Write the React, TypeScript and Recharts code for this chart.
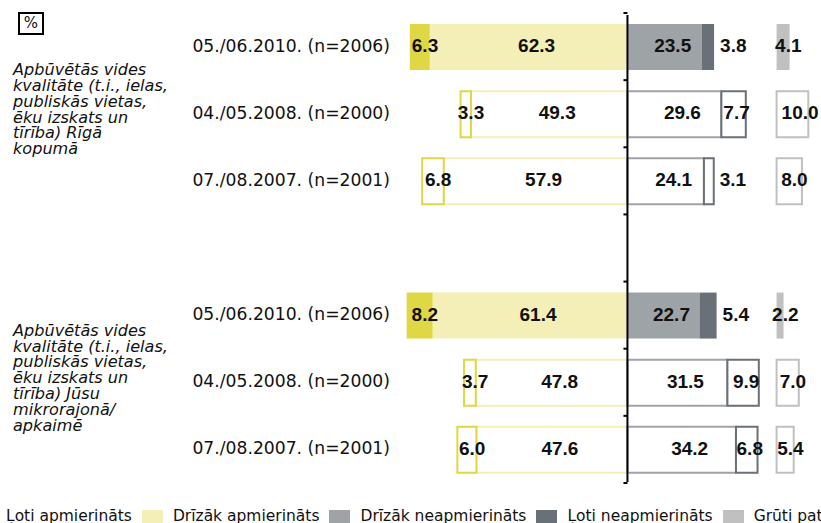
import { Bar, BarChart, Cell, LabelList, ReferenceLine, XAxis, YAxis } from "recharts";

const ROW_IDS = ["r1", "r2", "r3", "gap", "r4", "r5", "r6"];
const ROW_LABELS = [
  "05./06.2010. (n=2006)",
  "04./05.2008. (n=2000)",
  "07./08.2007. (n=2001)",
  "",
  "05./06.2010. (n=2006)",
  "04./05.2008. (n=2000)",
  "07./08.2007. (n=2001)",
];
// 2010 wave is drawn filled, older waves as outlines
const ROW_FILLED = [true, false, false, false, true, false, false];

const GROUP_RIGA = ["Apbūvētās vides", "kvalitāte (t.i., ielas,", "publiskās vietas,", "ēku izskats un", "tīrība) Rīgā", "kopumā"];
const GROUP_LOCAL = ["Apbūvētās vides", "kvalitāte (t.i., ielas,", "publiskās vietas,", "ēku izskats un", "tīrība) Jūsu", "mikrorajonā/", "apkaimē"];

const VERY_SAT = [6.3, 3.3, 6.8, null, 8.2, 3.7, 6.0];
const RATHER_SAT = [62.3, 49.3, 57.9, null, 61.4, 47.8, 47.6];
const RATHER_DIS = [23.5, 29.6, 24.1, null, 22.7, 31.5, 34.2];
const VERY_DIS = [3.8, 7.7, 3.1, null, 5.4, 9.9, 6.8];
const HARD_TO_SAY = [4.1, 10.0, 8.0, null, 2.2, 7.0, 5.4];

const SERIES_NAMES = ["Ļoti apmierināts", "Drīzāk apmierināts", "Drīzāk neapmierināts", "Ļoti neapmierināts", "Grūti pateikt"];
const SERIES_COLORS = ["#dfd744", "#f4efb6", "#9ea3a8", "#6a7077", "#c0c0c0"];

const data = ROW_IDS.map((id, i) => ({
  id,
  label: ROW_LABELS[i],
  vs: VERY_SAT[i] == null ? null : -VERY_SAT[i]!,
  rs: RATHER_SAT[i] == null ? null : -RATHER_SAT[i]!,
  rd: RATHER_DIS[i],
  vd: VERY_DIS[i],
  dk: HARD_TO_SAY[i],
}));

const SANS = "'DejaVu Sans', sans-serif";
const VALUE_FONT = { fontFamily: "'Liberation Sans', Arial, sans-serif", fontWeight: 700, fontSize: 19, fill: "#111" };

type Mode = "start" | "center" | "outside";

const makeLabel = (mode: Mode) => (props: any) => {
  const { x, y, width, height, value } = props;
  if (value == null || isNaN(x)) return null;
  const x0 = width < 0 ? x + width : x;
  const w = Math.abs(width);
  const ty = y + height / 2 + 5;
  let tx = x0;
  let anchor: "start" | "middle" = "start";
  if (mode === "start") {
    tx = x0 + Math.min(5, w / 2 - 8);
  } else if (mode === "center") {
    tx = x0 + w / 2 + 8;
    anchor = "middle";
  } else if (w >= 20) {
    tx = x0 + w / 2 + 3;
    anchor = "middle";
  } else {
    tx = x0 + w + 6;
  }
  return (
    <text x={tx} y={ty} textAnchor={anchor} style={VALUE_FONT}>
      {Math.abs(value).toFixed(1)}
    </text>
  );
};

const cellsFor = (color: string) =>
  data.map((d, i) =>
    ROW_FILLED[i] ? (
      <Cell key={d.id} fill={color} stroke="none" />
    ) : (
      <Cell key={d.id} fill="#ffffff" stroke={color} strokeWidth={2} />
    )
  );

const RowTick = (props: any) => {
  const { y, payload } = props;
  const idx = ROW_IDS.indexOf(payload.value);
  const group = payload.value === "r2" ? GROUP_RIGA : payload.value === "r5" ? GROUP_LOCAL : null;
  const sp = 15.8;
  return (
    <g>
      <text x={390} y={y + 5} textAnchor="end" style={{ fontFamily: SANS, fontSize: 17.2, fill: "#111" }}>
        {ROW_LABELS[idx]}
      </text>
      {group && (
        <text style={{ fontFamily: SANS, fontSize: 16.1, fontStyle: "italic", fill: "#111" }}>
          {group.map((line, k) => (
            <tspan key={k} x={13} y={y + 1 - ((group.length - 1) * sp) / 2 + k * sp}>
              {line}
            </tspan>
          ))}
        </text>
      )}
    </g>
  );
};

const AxisShape = (props: any) => {
  const { x1, y1, y2 } = props;
  const step = (y2 - y1) / ROW_IDS.length;
  return (
    <g>
      <line x1={x1} x2={x1} y1={y1 - 1} y2={y2 + 2} stroke="#000" strokeWidth={2} />
      {ROW_IDS.map((_, i) => (
        <line key={i} x1={x1 - 4} x2={x1} y1={y1 + i * step} y2={y1 + i * step} stroke="#000" strokeWidth={2} />
      ))}
      <line x1={x1 - 4} x2={x1} y1={y2} y2={y2} stroke="#000" strokeWidth={2} />
    </g>
  );
};

export default function App() {
  return (
    <div style={{ position: "absolute", left: 0, top: 0, width: 821, height: 523, overflow: "hidden", background: "#fff" }}>
      <BarChart
        width={821}
        height={523}
        data={data}
        layout="vertical"
        stackOffset="sign"
        margin={{ top: 13, right: 0, bottom: 40, left: 0 }}
      >
        <XAxis xAxisId="main" type="number" domain={[-72, 61]} hide allowDataOverflow />
        <XAxis xAxisId="dk" type="number" domain={[-119, 14]} hide allowDataOverflow />
        <YAxis
          yAxisId="main"
          type="category"
          dataKey="id"
          width={399}
          axisLine={false}
          tickLine={false}
          interval={0}
          tick={<RowTick />}
        />
        <YAxis yAxisId="dk" type="category" dataKey="id" hide />
        <Bar dataKey="rs" name={SERIES_NAMES[1]} xAxisId="main" yAxisId="main" stackId="s" barSize={46} fill={SERIES_COLORS[1]} isAnimationActive={false}>
          {cellsFor(SERIES_COLORS[1])}
          <LabelList dataKey="rs" content={makeLabel("center")} />
        </Bar>
        <Bar dataKey="vs" name={SERIES_NAMES[0]} xAxisId="main" yAxisId="main" stackId="s" barSize={46} fill={SERIES_COLORS[0]} isAnimationActive={false}>
          {cellsFor(SERIES_COLORS[0])}
          <LabelList dataKey="vs" content={makeLabel("start")} />
        </Bar>
        <Bar dataKey="rd" name={SERIES_NAMES[2]} xAxisId="main" yAxisId="main" stackId="s" barSize={46} fill={SERIES_COLORS[2]} isAnimationActive={false}>
          {cellsFor(SERIES_COLORS[2])}
          <LabelList dataKey="rd" content={makeLabel("center")} />
        </Bar>
        <Bar dataKey="vd" name={SERIES_NAMES[3]} xAxisId="main" yAxisId="main" stackId="s" barSize={46} fill={SERIES_COLORS[3]} isAnimationActive={false}>
          {cellsFor(SERIES_COLORS[3])}
          <LabelList dataKey="vd" content={makeLabel("outside")} />
        </Bar>
        <Bar dataKey="dk" name={SERIES_NAMES[4]} xAxisId="dk" yAxisId="dk" barSize={46} fill={SERIES_COLORS[4]} isAnimationActive={false}>
          {cellsFor(SERIES_COLORS[4])}
          <LabelList dataKey="dk" content={makeLabel("start")} />
        </Bar>
        <ReferenceLine x={0} xAxisId="main" yAxisId="main" shape={<AxisShape />} />
      </BarChart>

      <div
        style={{
          position: "absolute",
          left: 18,
          top: 12,
          width: 22,
          height: 19,
          border: "2px solid #000",
          fontFamily: SANS,
          fontSize: 15,
          lineHeight: "19px",
          textAlign: "center",
          color: "#111",
        }}
      >
        %
      </div>

      <div
        style={{
          position: "absolute",
          left: -25,
          top: 510,
          display: "flex",
          whiteSpace: "nowrap",
          fontFamily: SANS,
          fontSize: 15.5,
          color: "#111",
        }}
      >
        {SERIES_NAMES.map((name, i) => (
          <div key={name} style={{ display: "flex", alignItems: "flex-start", marginRight: 10 }}>
            <span style={{ display: "inline-block", width: 21, height: 20, background: SERIES_COLORS[i], marginRight: 10 }} />
            <span style={{ lineHeight: "14px", marginTop: -1 }}>{name}</span>
          </div>
        ))}
      </div>
    </div>
  );
}
